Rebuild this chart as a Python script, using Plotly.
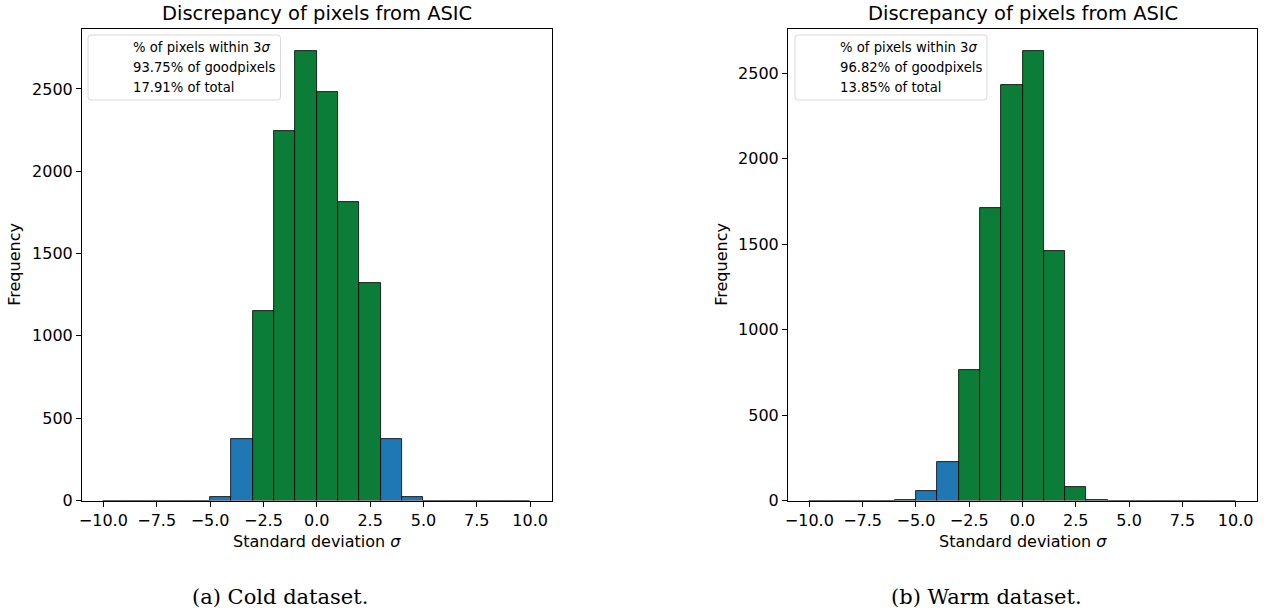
import plotly.graph_objects as go

# Histogram bin edges (standard deviations), one-sigma wide bins
bin_edges = list(range(-10, 11))

# Counts per bin for each dataset
cold_counts = [0, 0, 0, 0, 0, 19, 372, 1151, 2245, 2728,
               2484, 1812, 1320, 372, 19, 0, 0, 0, 0, 0]
warm_counts = [0, 0, 0, 0, 4, 57, 225, 764, 1710, 2431,
               2628, 1462, 77, 3, 0, 0, 0, 0, 0, 0]

panel_titles = ["Discrepancy of pixels from ASIC", "Discrepancy of pixels from ASIC"]
panel_captions = ["(a) Cold dataset.", "(b) Warm dataset."]
legend_lines = [
    ["% of pixels within 3<i>σ</i>", "93.75% of goodpixels", "17.91% of total"],
    ["% of pixels within 3<i>σ</i>", "96.82% of goodpixels", "13.85% of total"],
]

x_tick_vals = [-10, -7.5, -5, -2.5, 0, 2.5, 5, 7.5, 10]
x_tick_text = ["−10.0", "−7.5", "−5.0", "−2.5", "0.0", "2.5", "5.0", "7.5", "10.0"]
y_tick_vals = [0, 500, 1000, 1500, 2000, 2500]

W, H = 1273, 614
GREEN = "#0b7d39"
BLUE = "#1f77b4"
FONT = "DejaVu Sans"
TICK_SIZE = 16
LABEL_SIZE = 16
TITLE_SIZE = 19.5
BOX_SIZE = 13.2

# Axes placement in pixels (left, right), shared top/bottom
x_domains_px = [(82, 551.5), (788, 1257)]
y_top_px, y_bot_px = 29, 500.5


def px(v):
    return v / W


def py(v):
    return (H - v) / H


centers = [(a + b) / 2 for a, b in zip(bin_edges[:-1], bin_edges[1:])]
widths = [b - a for a, b in zip(bin_edges[:-1], bin_edges[1:])]

fig = go.Figure()
shapes = []
annotations = []

for i, counts in enumerate([cold_counts, warm_counts]):
    xa = "x" if i == 0 else "x2"
    ya = "y" if i == 0 else "y2"
    colors = [GREEN if abs(c) < 3 else BLUE for c in centers]
    fig.add_trace(go.Bar(
        x=centers, y=counts, width=widths,
        marker=dict(color=colors, line=dict(color="black", width=0.8)),
        xaxis=xa, yaxis=ya, showlegend=False, hoverinfo="x+y",
    ))

    x0p, x1p = x_domains_px[i]
    axis_common = dict(
        showline=True, mirror=True, linecolor="black", linewidth=1,
        ticks="outside", ticklen=5, tickwidth=1, tickcolor="black",
        showgrid=False, zeroline=False, automargin=False,
        tickfont=dict(family=FONT, size=TICK_SIZE, color="black"),
    )
    xkey = "xaxis" if i == 0 else "xaxis2"
    ykey = "yaxis" if i == 0 else "yaxis2"
    fig.update_layout(**{
        xkey: dict(
            domain=[px(x0p), px(x1p)], anchor=ya, range=[-11, 11],
            tickvals=x_tick_vals, ticktext=x_tick_text,
            **axis_common,
        ),
        ykey: dict(
            domain=[py(y_bot_px), py(y_top_px)], anchor=xa,
            range=[0, 1.05 * max(counts)],
            tickvals=y_tick_vals,
            **axis_common,
        ),
    })

    xc = (x0p + x1p) / 2
    # Panel title
    annotations.append(dict(
        text=panel_titles[i], xref="paper", yref="paper",
        x=px(xc), y=py(13), xanchor="center", yanchor="middle",
        showarrow=False, font=dict(family=FONT, size=TITLE_SIZE, color="black"),
    ))
    # Axis titles
    annotations.append(dict(
        text="Standard deviation <i>σ</i>", xref="paper", yref="paper",
        x=px(xc), y=py(541), xanchor="center", yanchor="middle",
        showarrow=False, font=dict(family=FONT, size=LABEL_SIZE, color="black"),
    ))
    annotations.append(dict(
        text="Frequency", xref="paper", yref="paper",
        x=px(15 if i == 0 else 722), y=py((y_top_px + y_bot_px) / 2),
        xanchor="center", yanchor="middle", textangle=-90,
        showarrow=False, font=dict(family=FONT, size=LABEL_SIZE, color="black"),
    ))
    # Sub-figure caption
    annotations.append(dict(
        text=panel_captions[i], xref="paper", yref="paper",
        x=px(280 if i == 0 else 986), y=py(597),
        xanchor="center", yanchor="middle", showarrow=False,
        font=dict(family="DejaVu Serif", size=21, color="black"),
    ))

    # Text box in the upper-left corner of each panel
    bx0, bx1 = (88, 280.5) if i == 0 else (795, 987)
    by0, by1 = 35, 100
    r = 3
    path = (
        f"M {px(bx0 + r)},{py(by0)} L {px(bx1 - r)},{py(by0)} "
        f"Q {px(bx1)},{py(by0)} {px(bx1)},{py(by0 + r)} "
        f"L {px(bx1)},{py(by1 - r)} Q {px(bx1)},{py(by1)} {px(bx1 - r)},{py(by1)} "
        f"L {px(bx0 + r)},{py(by1)} Q {px(bx0)},{py(by1)} {px(bx0)},{py(by1 - r)} "
        f"L {px(bx0)},{py(by0 + r)} Q {px(bx0)},{py(by0)} {px(bx0 + r)},{py(by0)} Z"
    )
    shapes.append(dict(type="path", path=path, xref="paper", yref="paper",
                       line=dict(color="#d9d9d9", width=1),
                       fillcolor="rgba(255,255,255,0.8)", layer="above"))
    tx = 131 if i == 0 else 838
    for j, line in enumerate(legend_lines[i]):
        annotations.append(dict(
            text=line, xref="paper", yref="paper",
            x=px(tx), y=py(47.7 + 20 * j),
            xanchor="left", yanchor="middle", showarrow=False,
            font=dict(family=FONT, size=BOX_SIZE, color="black"),
        ))

fig.update_layout(
    width=W, height=H,
    margin=dict(l=0, r=0, t=0, b=0, pad=0),
    paper_bgcolor="white", plot_bgcolor="white",
    bargap=0, shapes=shapes, annotations=annotations,
)

fig.write_html("out.html")
